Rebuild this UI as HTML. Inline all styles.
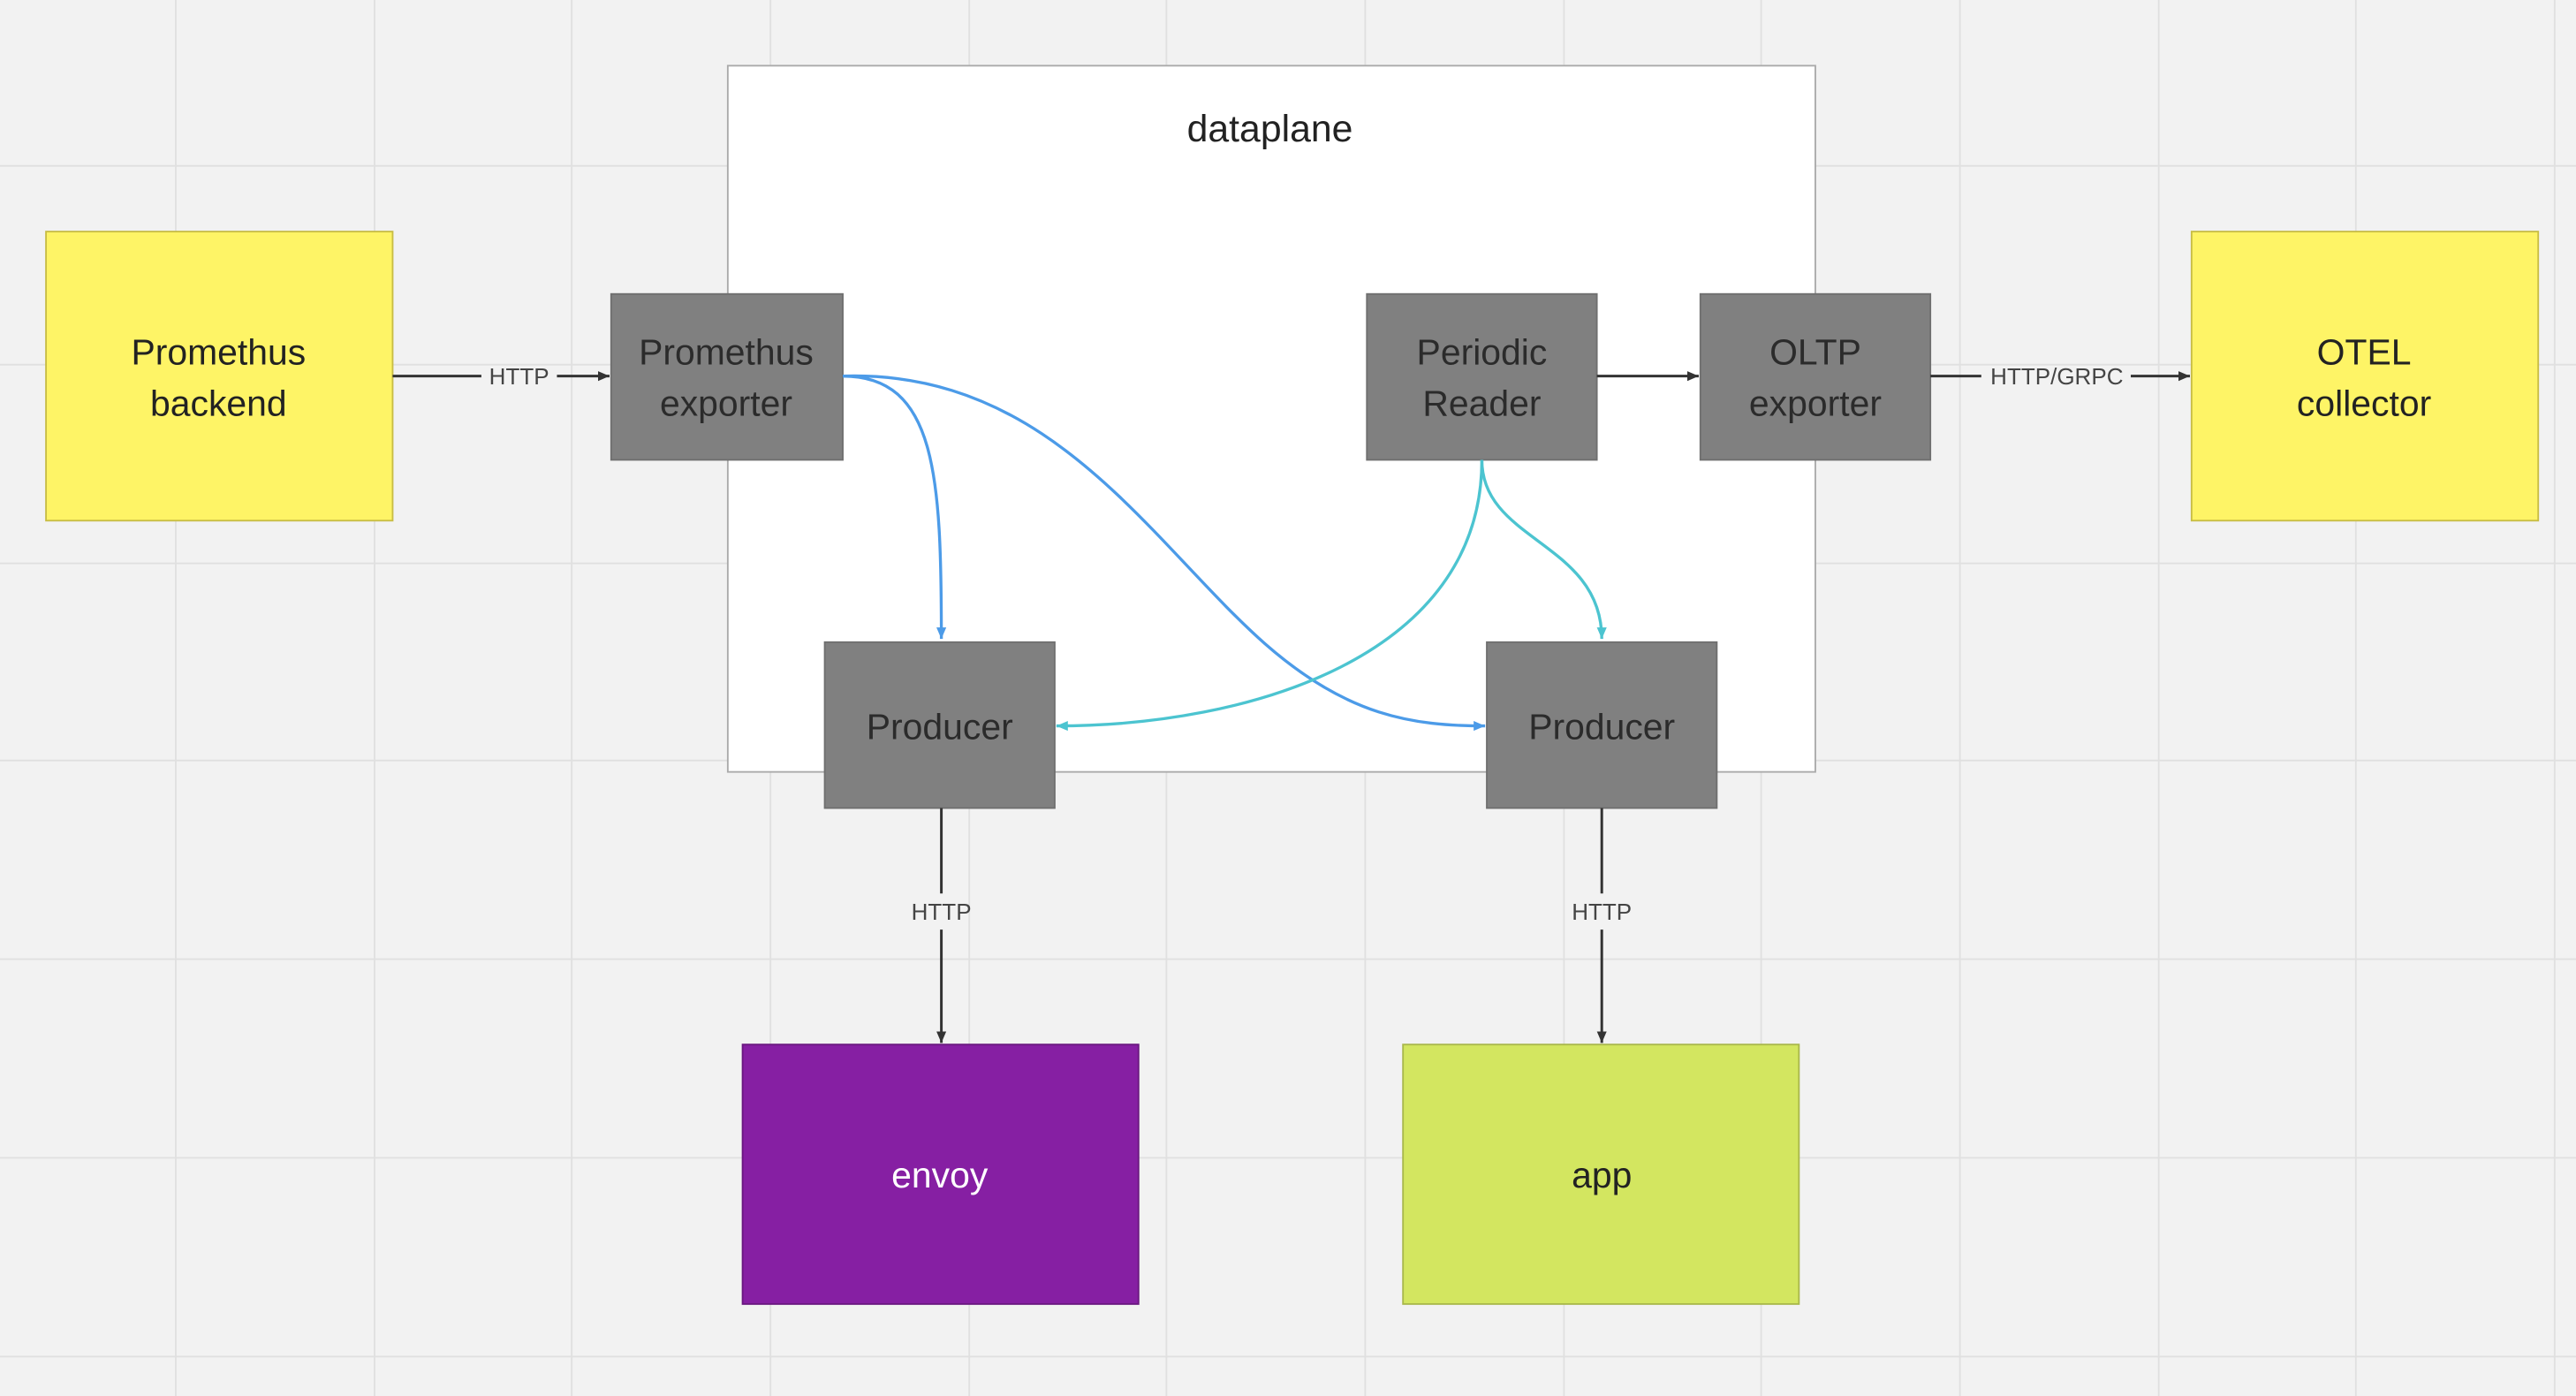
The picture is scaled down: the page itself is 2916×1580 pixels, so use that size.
<!DOCTYPE html>
<html><head><meta charset="utf-8"><style>
html,body{margin:0;padding:0;background:#f2f2f2;}
svg{display:block;}
text{font-family:"Liberation Sans","DejaVu Sans",sans-serif;}
</style></head><body>
<svg width="2916" height="1580" viewBox="0 0 1568 850" preserveAspectRatio="none" xmlns="http://www.w3.org/2000/svg">
<defs>
<marker id="ak" markerWidth="8" markerHeight="8" refX="7" refY="4" orient="auto" markerUnits="userSpaceOnUse"><path d="M0,1 L7,4 L0,7 z" fill="#333"/></marker>
<marker id="ab" markerWidth="8" markerHeight="8" refX="7" refY="4" orient="auto" markerUnits="userSpaceOnUse"><path d="M0,1 L7,4 L0,7 z" fill="#4c9be8"/></marker>
<marker id="at" markerWidth="8" markerHeight="8" refX="7" refY="4" orient="auto" markerUnits="userSpaceOnUse"><path d="M0,1 L7,4 L0,7 z" fill="#4cc4d0"/></marker>
</defs>
<rect width="1568" height="850" fill="#f2f2f2"/>
<g stroke="#e0e0e0" stroke-width="1">
<line x1="107" y1="0" x2="107" y2="850"/><line x1="228" y1="0" x2="228" y2="850"/><line x1="348" y1="0" x2="348" y2="850"/><line x1="469" y1="0" x2="469" y2="850"/><line x1="590" y1="0" x2="590" y2="850"/><line x1="710" y1="0" x2="710" y2="850"/><line x1="831" y1="0" x2="831" y2="850"/><line x1="952" y1="0" x2="952" y2="850"/><line x1="1072" y1="0" x2="1072" y2="850"/><line x1="1193" y1="0" x2="1193" y2="850"/><line x1="1314" y1="0" x2="1314" y2="850"/><line x1="1434" y1="0" x2="1434" y2="850"/><line x1="1555" y1="0" x2="1555" y2="850"/>
<line x1="0" y1="101" x2="1568" y2="101"/><line x1="0" y1="222" x2="1568" y2="222"/><line x1="0" y1="343" x2="1568" y2="343"/><line x1="0" y1="463" x2="1568" y2="463"/><line x1="0" y1="584" x2="1568" y2="584"/><line x1="0" y1="705" x2="1568" y2="705"/><line x1="0" y1="826" x2="1568" y2="826"/>
</g>
<rect x="443" y="40" width="662" height="430" fill="#fff" stroke="#aaa" stroke-width="1"/>
<text x="773" y="86" font-size="23" fill="#222" text-anchor="middle">dataplane</text>

<rect x="28" y="141" width="211" height="176" fill="#fef466" stroke="#c8bd45"/>
<text x="133" y="222" font-size="22" fill="#222" text-anchor="middle">Promethus</text>
<text x="133" y="253" font-size="22" fill="#222" text-anchor="middle">backend</text>
<rect x="1334" y="141" width="211" height="176" fill="#fef466" stroke="#c8bd45"/>
<text x="1439" y="222" font-size="22" fill="#222" text-anchor="middle">OTEL</text>
<text x="1439" y="253" font-size="22" fill="#222" text-anchor="middle">collector</text>

<g fill="#808080" stroke="#6f6f6f">
<rect x="372" y="179" width="141" height="101"/>
<rect x="832" y="179" width="140" height="101"/>
<rect x="1035" y="179" width="140" height="101"/>
<rect x="502" y="391" width="140" height="101"/>
<rect x="905" y="391" width="140" height="101"/>
</g>
<g font-size="22" fill="#2b2b2b" text-anchor="middle">
<text x="442" y="222">Promethus</text><text x="442" y="253">exporter</text>
<text x="902" y="222">Periodic</text><text x="902" y="253">Reader</text>
<text x="1105" y="222">OLTP</text><text x="1105" y="253">exporter</text>
<text x="572" y="450">Producer</text>
<text x="975" y="450">Producer</text>
</g>

<rect x="452" y="636" width="241" height="158" fill="#861fa3" stroke="#6a1780"/>
<text x="572" y="723" font-size="22" fill="#fff" text-anchor="middle">envoy</text>
<rect x="854" y="636" width="241" height="158" fill="#d3e660" stroke="#a9b84a"/>
<text x="975" y="723" font-size="22" fill="#222" text-anchor="middle">app</text>

<g stroke="#333" stroke-width="1.6" fill="none">
<line x1="239" y1="229" x2="293" y2="229"/><line x1="339" y1="229" x2="371" y2="229" marker-end="url(#ak)"/>
<line x1="972" y1="229" x2="1034" y2="229" marker-end="url(#ak)"/>
<line x1="1175" y1="229" x2="1206" y2="229"/><line x1="1297" y1="229" x2="1333" y2="229" marker-end="url(#ak)"/>
<line x1="573" y1="492" x2="573" y2="544"/><line x1="573" y1="566" x2="573" y2="635" marker-end="url(#ak)"/>
<line x1="975" y1="492" x2="975" y2="544"/><line x1="975" y1="566" x2="975" y2="635" marker-end="url(#ak)"/>
</g>
<g font-size="14" fill="#444" text-anchor="middle">
<text x="316" y="234">HTTP</text>
<text x="1252" y="234">HTTP/GRPC</text>
<text x="573" y="560">HTTP</text>
<text x="975" y="560">HTTP</text>
</g>

<g fill="none" stroke-width="1.8">
<path d="M513,229 C570,229 573,290 573,389" stroke="#4c9be8" marker-end="url(#ab)"/>
<path d="M513,229 C640,225 700,330 770,392 C820,436 860,442 904,442" stroke="#4c9be8" marker-end="url(#ab)"/>
<path d="M902,280 C902,400 760,442 643,442" stroke="#4cc4d0" marker-end="url(#at)"/>
<path d="M902,280 C902,330 975,330 975,389" stroke="#4cc4d0" marker-end="url(#at)"/>
</g>
</svg>
</body></html>
